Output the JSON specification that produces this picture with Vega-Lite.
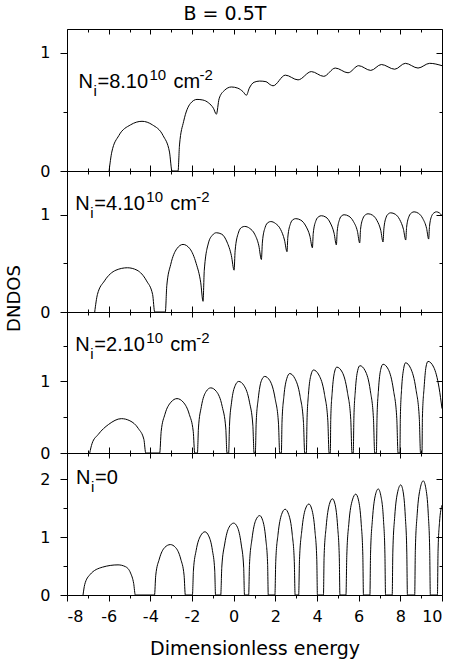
{
  "$schema": "https://vega.github.io/schema/vega-lite/v6.json",
  "padding": {"left": 5, "top": 4, "right": 2, "bottom": 4},
  "title": {"text": "B = 0.5T", "font": "DejaVu Sans", "fontSize": 19, "fontWeight": "normal", "color": "black", "offset": 5, "anchor": "middle"},
  "spacing": 0,
  "bounds": "flush",
  "datasets": {
    "p8": [
      {"e": -5.98, "d": 0}, {"e": -5.85, "d": 0.16}, {"e": -5.51, "d": 0.30}, {"e": -4.95, "d": 0.39}, {"e": -4.40, "d": 0.42}, {"e": -3.90, "d": 0.39}, {"e": -3.39, "d": 0.30}, {"e": -3.08, "d": 0.16}, {"e": -2.96, "d": 0},
      {"e": -2.67, "d": 0}, {"e": -2.60, "d": 0.22}, {"e": -2.40, "d": 0.42}, {"e": -2.08, "d": 0.57}, {"e": -1.76, "d": 0.605}, {"e": -1.48, "d": 0.60}, {"e": -1.20, "d": 0.575}, {"e": -0.97, "d": 0.53}, {"e": -0.83, "d": 0.48},
      {"e": -0.70, "d": 0.61}, {"e": -0.45, "d": 0.68}, {"e": -0.11, "d": 0.71}, {"e": 0.20, "d": 0.70}, {"e": 0.45, "d": 0.67}, {"e": 0.61, "d": 0.64},
      {"e": 0.75, "d": 0.70}, {"e": 0.98, "d": 0.75}, {"e": 1.25, "d": 0.76}, {"e": 1.55, "d": 0.755}, {"e": 1.75, "d": 0.73}, {"e": 1.89, "d": 0.72},
      {"e": 2.48, "d": 0.81}, {"e": 3.09, "d": 0.77}, {"e": 3.73, "d": 0.84}, {"e": 4.32, "d": 0.80}, {"e": 4.88, "d": 0.87}, {"e": 5.49, "d": 0.83},
      {"e": 6.00, "d": 0.89}, {"e": 6.58, "d": 0.85}, {"e": 7.09, "d": 0.90}, {"e": 7.73, "d": 0.86}, {"e": 8.24, "d": 0.91}, {"e": 8.85, "d": 0.87},
      {"e": 9.41, "d": 0.91}, {"e": 10.0, "d": 0.89}
    ],
    "p4": [
      {"e": -6.67, "d": 0}, {"e": -6.54, "d": 0.18}, {"e": -6.20, "d": 0.32}, {"e": -5.65, "d": 0.43}, {"e": -5.10, "d": 0.455}, {"e": -4.64, "d": 0.43}, {"e": -4.18, "d": 0.32}, {"e": -3.89, "d": 0.18}, {"e": -3.79, "d": 0},
      {"e": -3.28, "d": 0}, {"e": -3.21, "d": 0.27}, {"e": -3.02, "d": 0.49}, {"e": -2.73, "d": 0.65}, {"e": -2.43, "d": 0.695}, {"e": -2.10, "d": 0.65}, {"e": -1.80, "d": 0.50}, {"e": -1.58, "d": 0.30}, {"e": -1.47, "d": 0.11},
      {"e": -1.41, "d": 0.43}, {"e": -1.21, "d": 0.71}, {"e": -1.02, "d": 0.79}, {"e": -0.83, "d": 0.815}, {"e": -0.57, "d": 0.80}, {"e": -0.32, "d": 0.72}, {"e": -0.11, "d": 0.58}, {"e": 0.02, "d": 0.43},
      {"e": 0.07, "d": 0.63}, {"e": 0.22, "d": 0.81}, {"e": 0.38, "d": 0.87}, {"e": 0.53, "d": 0.88}, {"e": 0.77, "d": 0.86}, {"e": 1.01, "d": 0.80}, {"e": 1.21, "d": 0.68}, {"e": 1.33, "d": 0.54},
      {"e": 1.38, "d": 0.72}, {"e": 1.51, "d": 0.87}, {"e": 1.65, "d": 0.92}, {"e": 1.78, "d": 0.93}, {"e": 2.01, "d": 0.91}, {"e": 2.25, "d": 0.85}, {"e": 2.44, "d": 0.74}, {"e": 2.56, "d": 0.62},
      {"e": 2.60, "d": 0.77}, {"e": 2.73, "d": 0.91}, {"e": 2.85, "d": 0.95}, {"e": 2.98, "d": 0.96}, {"e": 3.22, "d": 0.945}, {"e": 3.46, "d": 0.885}, {"e": 3.66, "d": 0.78}, {"e": 3.78, "d": 0.66},
      {"e": 3.82, "d": 0.81}, {"e": 3.95, "d": 0.94}, {"e": 4.08, "d": 0.98}, {"e": 4.21, "d": 0.99}, {"e": 4.43, "d": 0.975}, {"e": 4.64, "d": 0.915}, {"e": 4.82, "d": 0.81}, {"e": 4.93, "d": 0.69},
      {"e": 4.97, "d": 0.83}, {"e": 5.08, "d": 0.95}, {"e": 5.19, "d": 0.99}, {"e": 5.30, "d": 1.00}, {"e": 5.53, "d": 0.985}, {"e": 5.75, "d": 0.93}, {"e": 5.94, "d": 0.83}, {"e": 6.05, "d": 0.71},
      {"e": 6.09, "d": 0.85}, {"e": 6.21, "d": 0.965}, {"e": 6.33, "d": 1.00}, {"e": 6.45, "d": 1.01}, {"e": 6.67, "d": 0.995}, {"e": 6.88, "d": 0.94}, {"e": 7.06, "d": 0.84}, {"e": 7.17, "d": 0.72},
      {"e": 7.21, "d": 0.855}, {"e": 7.32, "d": 0.975}, {"e": 7.43, "d": 1.01}, {"e": 7.54, "d": 1.02}, {"e": 7.76, "d": 1.005}, {"e": 7.97, "d": 0.95}, {"e": 8.15, "d": 0.85}, {"e": 8.26, "d": 0.74},
      {"e": 8.30, "d": 0.87}, {"e": 8.42, "d": 0.985}, {"e": 8.54, "d": 1.02}, {"e": 8.66, "d": 1.03}, {"e": 8.87, "d": 1.015}, {"e": 9.08, "d": 0.96}, {"e": 9.26, "d": 0.86}, {"e": 9.36, "d": 0.75},
      {"e": 9.40, "d": 0.88}, {"e": 9.51, "d": 0.99}, {"e": 9.62, "d": 1.02}, {"e": 9.73, "d": 1.03}, {"e": 9.87, "d": 1.02}, {"e": 10.0, "d": 0.99}
    ],
    "p2": [
      {"e": -6.91, "d": 0}, {"e": -6.80, "d": 0.13}, {"e": -6.50, "d": 0.26}, {"e": -6.00, "d": 0.40}, {"e": -5.39, "d": 0.48}, {"e": -4.98, "d": 0.45}, {"e": -4.57, "d": 0.34}, {"e": -4.31, "d": 0.19}, {"e": -4.22, "d": 0},
      {"e": -3.55, "d": 0}, {"e": -3.48, "d": 0.30}, {"e": -3.30, "d": 0.54}, {"e": -3.01, "d": 0.71}, {"e": -2.72, "d": 0.76}, {"e": -2.42, "d": 0.71}, {"e": -2.13, "d": 0.54}, {"e": -1.94, "d": 0.30}, {"e": -1.87, "d": 0},
      {"e": -1.74, "d": 0}, {"e": -1.69, "d": 0.35}, {"e": -1.55, "d": 0.65}, {"e": -1.32, "d": 0.86}, {"e": -1.10, "d": 0.91}, {"e": -0.83, "d": 0.86}, {"e": -0.55, "d": 0.65}, {"e": -0.38, "d": 0.35}, {"e": -0.32, "d": 0},
      {"e": -0.24, "d": 0}, {"e": -0.20, "d": 0.39}, {"e": -0.10, "d": 0.71}, {"e": 0.07, "d": 0.94}, {"e": 0.24, "d": 1.00}, {"e": 0.50, "d": 0.94}, {"e": 0.76, "d": 0.71}, {"e": 0.92, "d": 0.39}, {"e": 0.98, "d": 0},
      {"e": 1.04, "d": 0}, {"e": 1.08, "d": 0.42}, {"e": 1.18, "d": 0.76}, {"e": 1.33, "d": 1.01}, {"e": 1.49, "d": 1.07}, {"e": 1.74, "d": 1.01}, {"e": 1.99, "d": 0.76}, {"e": 2.15, "d": 0.42}, {"e": 2.21, "d": 0},
      {"e": 2.29, "d": 0}, {"e": 2.32, "d": 0.43}, {"e": 2.41, "d": 0.79}, {"e": 2.55, "d": 1.04}, {"e": 2.69, "d": 1.11}, {"e": 2.94, "d": 1.04}, {"e": 3.19, "d": 0.79}, {"e": 3.35, "d": 0.43}, {"e": 3.41, "d": 0},
      {"e": 3.49, "d": 0}, {"e": 3.52, "d": 0.45}, {"e": 3.59, "d": 0.82}, {"e": 3.71, "d": 1.09}, {"e": 3.83, "d": 1.16}, {"e": 4.09, "d": 1.09}, {"e": 4.36, "d": 0.82}, {"e": 4.52, "d": 0.45}, {"e": 4.58, "d": 0},
      {"e": 4.64, "d": 0}, {"e": 4.66, "d": 0.47}, {"e": 4.73, "d": 0.85}, {"e": 4.84, "d": 1.13}, {"e": 4.95, "d": 1.20}, {"e": 5.21, "d": 1.13}, {"e": 5.46, "d": 0.85}, {"e": 5.62, "d": 0.47}, {"e": 5.68, "d": 0},
      {"e": 5.74, "d": 0}, {"e": 5.77, "d": 0.48}, {"e": 5.84, "d": 0.87}, {"e": 5.95, "d": 1.15}, {"e": 6.06, "d": 1.22}, {"e": 6.31, "d": 1.15}, {"e": 6.56, "d": 0.87}, {"e": 6.71, "d": 0.48}, {"e": 6.77, "d": 0},
      {"e": 6.85, "d": 0}, {"e": 6.88, "d": 0.48}, {"e": 6.95, "d": 0.88}, {"e": 7.06, "d": 1.17}, {"e": 7.17, "d": 1.24}, {"e": 7.42, "d": 1.17}, {"e": 7.67, "d": 0.88}, {"e": 7.83, "d": 0.48}, {"e": 7.89, "d": 0},
      {"e": 7.98, "d": 0}, {"e": 8.00, "d": 0.49}, {"e": 8.06, "d": 0.89}, {"e": 8.16, "d": 1.18}, {"e": 8.25, "d": 1.26}, {"e": 8.50, "d": 1.18}, {"e": 8.75, "d": 0.89}, {"e": 8.91, "d": 0.49}, {"e": 8.97, "d": 0},
      {"e": 9.04, "d": 0}, {"e": 9.06, "d": 0.50}, {"e": 9.14, "d": 0.91}, {"e": 9.23, "d": 1.20}, {"e": 9.33, "d": 1.28}, {"e": 9.60, "d": 1.20}, {"e": 9.86, "d": 0.91}, {"e": 10.0, "d": 0.62}
    ],
    "p0": [
      {"e": -7.23, "d": 0}, {"e": -7.15, "d": 0.18}, {"e": -6.90, "d": 0.35}, {"e": -6.30, "d": 0.48}, {"e": -5.55, "d": 0.52}, {"e": -5.20, "d": 0.49}, {"e": -4.95, "d": 0.38}, {"e": -4.80, "d": 0.20}, {"e": -4.72, "d": 0},
      {"e": -3.80, "d": 0}, {"e": -3.74, "d": 0.34}, {"e": -3.57, "d": 0.62}, {"e": -3.31, "d": 0.82}, {"e": -3.04, "d": 0.87}, {"e": -2.79, "d": 0.82}, {"e": -2.54, "d": 0.62}, {"e": -2.38, "d": 0.34}, {"e": -2.32, "d": 0},
      {"e": -1.98, "d": 0}, {"e": -1.93, "d": 0.43}, {"e": -1.80, "d": 0.77}, {"e": -1.59, "d": 1.02}, {"e": -1.38, "d": 1.09}, {"e": -1.20, "d": 1.02}, {"e": -1.02, "d": 0.77}, {"e": -0.91, "d": 0.43}, {"e": -0.87, "d": 0},
      {"e": -0.62, "d": 0}, {"e": -0.57, "d": 0.48}, {"e": -0.43, "d": 0.88}, {"e": -0.22, "d": 1.17}, {"e": 0.0, "d": 1.24}, {"e": 0.18, "d": 1.17}, {"e": 0.36, "d": 0.88}, {"e": 0.48, "d": 0.48}, {"e": 0.52, "d": 0},
      {"e": 0.72, "d": 0}, {"e": 0.76, "d": 0.53}, {"e": 0.88, "d": 0.97}, {"e": 1.06, "d": 1.29}, {"e": 1.25, "d": 1.37}, {"e": 1.39, "d": 1.29}, {"e": 1.54, "d": 0.97}, {"e": 1.63, "d": 0.53}, {"e": 1.66, "d": 0},
      {"e": 1.98, "d": 0}, {"e": 2.02, "d": 0.58}, {"e": 2.13, "d": 1.05}, {"e": 2.30, "d": 1.39}, {"e": 2.47, "d": 1.48}, {"e": 2.64, "d": 1.39}, {"e": 2.81, "d": 1.05}, {"e": 2.91, "d": 0.58}, {"e": 2.95, "d": 0},
      {"e": 3.12, "d": 0}, {"e": 3.16, "d": 0.61}, {"e": 3.27, "d": 1.11}, {"e": 3.44, "d": 1.48}, {"e": 3.61, "d": 1.57}, {"e": 3.75, "d": 1.48}, {"e": 3.90, "d": 1.11}, {"e": 3.99, "d": 0.61}, {"e": 4.02, "d": 0},
      {"e": 4.31, "d": 0}, {"e": 4.34, "d": 0.65}, {"e": 4.44, "d": 1.18}, {"e": 4.59, "d": 1.56}, {"e": 4.74, "d": 1.66}, {"e": 4.87, "d": 1.56}, {"e": 4.99, "d": 1.18}, {"e": 5.07, "d": 0.65}, {"e": 5.10, "d": 0},
      {"e": 5.39, "d": 0}, {"e": 5.43, "d": 0.68}, {"e": 5.53, "d": 1.24}, {"e": 5.70, "d": 1.64}, {"e": 5.86, "d": 1.74}, {"e": 5.99, "d": 1.64}, {"e": 6.12, "d": 1.24}, {"e": 6.20, "d": 0.68}, {"e": 6.23, "d": 0},
      {"e": 6.54, "d": 0}, {"e": 6.57, "d": 0.71}, {"e": 6.66, "d": 1.30}, {"e": 6.80, "d": 1.72}, {"e": 6.94, "d": 1.83}, {"e": 7.06, "d": 1.72}, {"e": 7.19, "d": 1.30}, {"e": 7.26, "d": 0.71}, {"e": 7.29, "d": 0},
      {"e": 7.61, "d": 0}, {"e": 7.64, "d": 0.74}, {"e": 7.73, "d": 1.35}, {"e": 7.88, "d": 1.79}, {"e": 8.02, "d": 1.90}, {"e": 8.13, "d": 1.79}, {"e": 8.24, "d": 1.35}, {"e": 8.31, "d": 0.74}, {"e": 8.34, "d": 0},
      {"e": 8.69, "d": 0}, {"e": 8.72, "d": 0.77}, {"e": 8.81, "d": 1.40}, {"e": 8.96, "d": 1.85}, {"e": 9.10, "d": 1.97}, {"e": 9.22, "d": 1.85}, {"e": 9.34, "d": 1.40}, {"e": 9.41, "d": 0.77}, {"e": 9.44, "d": 0},
      {"e": 9.78, "d": 0}, {"e": 9.81, "d": 0.75}, {"e": 9.88, "d": 1.25}, {"e": 10.0, "d": 1.55}
    ]
  },
  "vconcat": [
    {
      "width": 375, "height": 142,
      "resolve": {"axis": {"x": "independent", "y": "independent"}},
      "layer": [
        {
          "data": {"name": "p8"},
          "mark": {"type": "line", "color": "black", "strokeWidth": 1, "interpolate": "monotone"},
          "encoding": {
            "x": {"field": "e", "type": "quantitative", "scale": {"domain": [-8, 10], "nice": false, "zero": false},
                  "axis": {"orient": "bottom", "title": null, "labels": false, "values": [-8,-7,-6,-5,-4,-3,-2,-1,0,1,2,3,4,5,6,7,8,9,10],
                           "tickSize": {"condition": {"test": "datum.value % 2 === 0", "value": -6}, "value": -3}}},
            "y": {"field": "d", "type": "quantitative", "scale": {"domain": [0, 1.2], "nice": false},
                  "axis": {"orient": "left", "title": null, "values": [0, 0.5, 1], "labelPadding": 10,
                           "labelExpr": "datum.value % 1 === 0 ? '' + datum.value : ''",
                           "tickSize": {"condition": {"test": "datum.value % 1 === 0", "value": 7}, "value": 4}}}
          }
        },
        {
          "data": {"values": [{}]},
          "mark": {"type": "text", "align": "left", "baseline": "alphabetic", "font": "Liberation Sans", "fontSize": 20, "color": "black"},
          "encoding": {
            "x": {"datum": -7.45, "type": "quantitative", "scale": {"domain": [-8, 10], "nice": false, "zero": false},
                  "axis": {"orient": "top", "title": null, "labels": false, "values": [-8,-7,-6,-5,-4,-3,-2,-1,0,1,2,3,4,5,6,7,8,9,10],
                           "tickSize": {"condition": {"test": "datum.value % 2 === 0", "value": -5}, "value": -3}}},
            "y": {"datum": 0.70, "type": "quantitative", "scale": {"domain": [0, 1.2], "nice": false},
                  "axis": {"orient": "right", "title": null, "labels": false, "values": [0, 0.5, 1],
                           "tickSize": {"condition": {"test": "datum.value % 1 === 0", "value": -6}, "value": -3}}},
            "text": {"value": "N"}
          }
        },
        {"data": {"values": [{}]}, "mark": {"type": "text", "align": "left", "baseline": "alphabetic", "font": "Liberation Sans", "fontSize": 15, "color": "black", "dx": 15, "dy": 8},
         "encoding": {"x": {"datum": -7.45, "type": "quantitative", "scale": {"domain": [-8, 10], "nice": false, "zero": false}, "axis": null},
                      "y": {"datum": 0.70, "type": "quantitative", "scale": {"domain": [0, 1.2], "nice": false}, "axis": null}, "text": {"value": "i"}}},
        {"data": {"values": [{}]}, "mark": {"type": "text", "align": "left", "baseline": "alphabetic", "font": "Liberation Sans", "fontSize": 20, "color": "black", "dx": 19},
         "encoding": {"x": {"datum": -7.45, "type": "quantitative", "scale": {"domain": [-8, 10], "nice": false, "zero": false}, "axis": null},
                      "y": {"datum": 0.70, "type": "quantitative", "scale": {"domain": [0, 1.2], "nice": false}, "axis": null}, "text": {"value": "=8.10"}}},
        {"data": {"values": [{}]}, "mark": {"type": "text", "align": "left", "baseline": "alphabetic", "font": "Liberation Sans", "fontSize": 15, "color": "black", "dx": 71, "dy": -8},
         "encoding": {"x": {"datum": -7.45, "type": "quantitative", "scale": {"domain": [-8, 10], "nice": false, "zero": false}, "axis": null},
                      "y": {"datum": 0.70, "type": "quantitative", "scale": {"domain": [0, 1.2], "nice": false}, "axis": null}, "text": {"value": "10"}}},
        {"data": {"values": [{}]}, "mark": {"type": "text", "align": "left", "baseline": "alphabetic", "font": "Liberation Sans", "fontSize": 20, "color": "black", "dx": 95},
         "encoding": {"x": {"datum": -7.45, "type": "quantitative", "scale": {"domain": [-8, 10], "nice": false, "zero": false}, "axis": null},
                      "y": {"datum": 0.70, "type": "quantitative", "scale": {"domain": [0, 1.2], "nice": false}, "axis": null}, "text": {"value": "cm"}}},
        {"data": {"values": [{}]}, "mark": {"type": "text", "align": "left", "baseline": "alphabetic", "font": "Liberation Sans", "fontSize": 15, "color": "black", "dx": 121, "dy": -8},
         "encoding": {"x": {"datum": -7.45, "type": "quantitative", "scale": {"domain": [-8, 10], "nice": false, "zero": false}, "axis": null},
                      "y": {"datum": 0.70, "type": "quantitative", "scale": {"domain": [0, 1.2], "nice": false}, "axis": null}, "text": {"value": "-2"}}}
      ]
    },
    {
      "width": 375, "height": 141,
      "resolve": {"axis": {"x": "independent", "y": "independent"}},
      "layer": [
        {
          "data": {"name": "p4"},
          "mark": {"type": "line", "color": "black", "strokeWidth": 1, "interpolate": "monotone"},
          "encoding": {
            "x": {"field": "e", "type": "quantitative", "scale": {"domain": [-8, 10], "nice": false, "zero": false},
                  "axis": {"orient": "bottom", "title": null, "labels": false, "values": [-8,-7,-6,-5,-4,-3,-2,-1,0,1,2,3,4,5,6,7,8,9,10],
                           "tickSize": {"condition": {"test": "datum.value % 2 === 0", "value": -6}, "value": -3}}},
            "y": {"field": "d", "type": "quantitative", "scale": {"domain": [0, 1.45], "nice": false},
                  "axis": {"orient": "left", "title": "DNDOS", "titleY": 127, "titlePadding": 16, "values": [0, 0.5, 1], "labelPadding": 10,
                           "labelExpr": "datum.value % 1 === 0 ? '' + datum.value : ''",
                           "tickSize": {"condition": {"test": "datum.value % 1 === 0", "value": 7}, "value": 4}}}
          }
        },
        {
          "data": {"values": [{}]},
          "mark": {"type": "text", "align": "left", "baseline": "alphabetic", "font": "Liberation Sans", "fontSize": 20, "color": "black"},
          "encoding": {
            "x": {"datum": -7.6, "type": "quantitative", "scale": {"domain": [-8, 10], "nice": false, "zero": false},
                  "axis": {"orient": "top", "title": null, "labels": false, "values": [-8,-7,-6,-5,-4,-3,-2,-1,0,1,2,3,4,5,6,7,8,9,10],
                           "tickSize": {"condition": {"test": "datum.value % 2 === 0", "value": -5}, "value": -3}}},
            "y": {"datum": 1.045, "type": "quantitative", "scale": {"domain": [0, 1.45], "nice": false},
                  "axis": {"orient": "right", "title": null, "labels": false, "values": [0, 0.5, 1],
                           "tickSize": {"condition": {"test": "datum.value % 1 === 0", "value": -6}, "value": -3}}},
            "text": {"value": "N"}
          }
        },
        {"data": {"values": [{}]}, "mark": {"type": "text", "align": "left", "baseline": "alphabetic", "font": "Liberation Sans", "fontSize": 15, "color": "black", "dx": 15, "dy": 8},
         "encoding": {"x": {"datum": -7.6, "type": "quantitative", "scale": {"domain": [-8, 10], "nice": false, "zero": false}, "axis": null},
                      "y": {"datum": 1.045, "type": "quantitative", "scale": {"domain": [0, 1.45], "nice": false}, "axis": null}, "text": {"value": "i"}}},
        {"data": {"values": [{}]}, "mark": {"type": "text", "align": "left", "baseline": "alphabetic", "font": "Liberation Sans", "fontSize": 20, "color": "black", "dx": 19},
         "encoding": {"x": {"datum": -7.6, "type": "quantitative", "scale": {"domain": [-8, 10], "nice": false, "zero": false}, "axis": null},
                      "y": {"datum": 1.045, "type": "quantitative", "scale": {"domain": [0, 1.45], "nice": false}, "axis": null}, "text": {"value": "=4.10"}}},
        {"data": {"values": [{}]}, "mark": {"type": "text", "align": "left", "baseline": "alphabetic", "font": "Liberation Sans", "fontSize": 15, "color": "black", "dx": 71, "dy": -8},
         "encoding": {"x": {"datum": -7.6, "type": "quantitative", "scale": {"domain": [-8, 10], "nice": false, "zero": false}, "axis": null},
                      "y": {"datum": 1.045, "type": "quantitative", "scale": {"domain": [0, 1.45], "nice": false}, "axis": null}, "text": {"value": "10"}}},
        {"data": {"values": [{}]}, "mark": {"type": "text", "align": "left", "baseline": "alphabetic", "font": "Liberation Sans", "fontSize": 20, "color": "black", "dx": 95},
         "encoding": {"x": {"datum": -7.6, "type": "quantitative", "scale": {"domain": [-8, 10], "nice": false, "zero": false}, "axis": null},
                      "y": {"datum": 1.045, "type": "quantitative", "scale": {"domain": [0, 1.45], "nice": false}, "axis": null}, "text": {"value": "cm"}}},
        {"data": {"values": [{}]}, "mark": {"type": "text", "align": "left", "baseline": "alphabetic", "font": "Liberation Sans", "fontSize": 15, "color": "black", "dx": 121, "dy": -8},
         "encoding": {"x": {"datum": -7.6, "type": "quantitative", "scale": {"domain": [-8, 10], "nice": false, "zero": false}, "axis": null},
                      "y": {"datum": 1.045, "type": "quantitative", "scale": {"domain": [0, 1.45], "nice": false}, "axis": null}, "text": {"value": "-2"}}}
      ]
    },
    {
      "width": 375, "height": 141,
      "resolve": {"axis": {"x": "independent", "y": "independent"}},
      "layer": [
        {
          "data": {"name": "p2"},
          "mark": {"type": "line", "color": "black", "strokeWidth": 1, "interpolate": "monotone"},
          "encoding": {
            "x": {"field": "e", "type": "quantitative", "scale": {"domain": [-8, 10], "nice": false, "zero": false},
                  "axis": {"orient": "bottom", "title": null, "labels": false, "values": [-8,-7,-6,-5,-4,-3,-2,-1,0,1,2,3,4,5,6,7,8,9,10],
                           "tickSize": {"condition": {"test": "datum.value % 2 === 0", "value": -6}, "value": -3}}},
            "y": {"field": "d", "type": "quantitative", "scale": {"domain": [0, 1.97], "nice": false},
                  "axis": {"orient": "left", "title": null, "values": [0, 0.5, 1, 1.5], "labelPadding": 10,
                           "labelExpr": "datum.value % 1 === 0 ? '' + datum.value : ''",
                           "tickSize": {"condition": {"test": "datum.value % 1 === 0", "value": 7}, "value": 4}}}
          }
        },
        {
          "data": {"values": [{}]},
          "mark": {"type": "text", "align": "left", "baseline": "alphabetic", "font": "Liberation Sans", "fontSize": 20, "color": "black"},
          "encoding": {
            "x": {"datum": -7.6, "type": "quantitative", "scale": {"domain": [-8, 10], "nice": false, "zero": false},
                  "axis": {"orient": "top", "title": null, "labels": false, "values": [-8,-7,-6,-5,-4,-3,-2,-1,0,1,2,3,4,5,6,7,8,9,10],
                           "tickSize": {"condition": {"test": "datum.value % 2 === 0", "value": -5}, "value": -3}}},
            "y": {"datum": 1.42, "type": "quantitative", "scale": {"domain": [0, 1.97], "nice": false},
                  "axis": {"orient": "right", "title": null, "labels": false, "values": [0, 0.5, 1, 1.5],
                           "tickSize": {"condition": {"test": "datum.value % 1 === 0", "value": -6}, "value": -3}}},
            "text": {"value": "N"}
          }
        },
        {"data": {"values": [{}]}, "mark": {"type": "text", "align": "left", "baseline": "alphabetic", "font": "Liberation Sans", "fontSize": 15, "color": "black", "dx": 15, "dy": 8},
         "encoding": {"x": {"datum": -7.6, "type": "quantitative", "scale": {"domain": [-8, 10], "nice": false, "zero": false}, "axis": null},
                      "y": {"datum": 1.42, "type": "quantitative", "scale": {"domain": [0, 1.97], "nice": false}, "axis": null}, "text": {"value": "i"}}},
        {"data": {"values": [{}]}, "mark": {"type": "text", "align": "left", "baseline": "alphabetic", "font": "Liberation Sans", "fontSize": 20, "color": "black", "dx": 19},
         "encoding": {"x": {"datum": -7.6, "type": "quantitative", "scale": {"domain": [-8, 10], "nice": false, "zero": false}, "axis": null},
                      "y": {"datum": 1.42, "type": "quantitative", "scale": {"domain": [0, 1.97], "nice": false}, "axis": null}, "text": {"value": "=2.10"}}},
        {"data": {"values": [{}]}, "mark": {"type": "text", "align": "left", "baseline": "alphabetic", "font": "Liberation Sans", "fontSize": 15, "color": "black", "dx": 71, "dy": -8},
         "encoding": {"x": {"datum": -7.6, "type": "quantitative", "scale": {"domain": [-8, 10], "nice": false, "zero": false}, "axis": null},
                      "y": {"datum": 1.42, "type": "quantitative", "scale": {"domain": [0, 1.97], "nice": false}, "axis": null}, "text": {"value": "10"}}},
        {"data": {"values": [{}]}, "mark": {"type": "text", "align": "left", "baseline": "alphabetic", "font": "Liberation Sans", "fontSize": 20, "color": "black", "dx": 95},
         "encoding": {"x": {"datum": -7.6, "type": "quantitative", "scale": {"domain": [-8, 10], "nice": false, "zero": false}, "axis": null},
                      "y": {"datum": 1.42, "type": "quantitative", "scale": {"domain": [0, 1.97], "nice": false}, "axis": null}, "text": {"value": "cm"}}},
        {"data": {"values": [{}]}, "mark": {"type": "text", "align": "left", "baseline": "alphabetic", "font": "Liberation Sans", "fontSize": 15, "color": "black", "dx": 121, "dy": -8},
         "encoding": {"x": {"datum": -7.6, "type": "quantitative", "scale": {"domain": [-8, 10], "nice": false, "zero": false}, "axis": null},
                      "y": {"datum": 1.42, "type": "quantitative", "scale": {"domain": [0, 1.97], "nice": false}, "axis": null}, "text": {"value": "-2"}}}
      ]
    },
    {
      "width": 375, "height": 142,
      "resolve": {"axis": {"x": "independent", "y": "independent"}},
      "layer": [
        {
          "data": {"name": "p0"},
          "mark": {"type": "line", "color": "black", "strokeWidth": 1, "interpolate": "monotone"},
          "encoding": {
            "x": {"field": "e", "type": "quantitative", "scale": {"domain": [-8, 10], "nice": false, "zero": false},
                  "axis": {"orient": "bottom", "title": "Dimensionless energy", "titlePadding": 15, "titleFontSize": 19, "labelPadding": 7,
                           "values": [-8,-7,-6,-5,-4,-3,-2,-1,0,1,2,3,4,5,6,7,8,9,10],
                           "labelExpr": "datum.value % 2 === 0 ? '' + datum.value : ''",
                           "tickSize": {"condition": {"test": "datum.value % 2 === 0", "value": 6}, "value": 3}}},
            "y": {"field": "d", "type": "quantitative", "scale": {"domain": [0, 2.45], "nice": false},
                  "axis": {"orient": "left", "title": null, "values": [0, 0.5, 1, 1.5, 2], "labelPadding": 10,
                           "labelExpr": "datum.value % 1 === 0 ? '' + datum.value : ''",
                           "tickSize": {"condition": {"test": "datum.value % 1 === 0", "value": 7}, "value": 4}}}
          }
        },
        {
          "data": {"values": [{}]},
          "mark": {"type": "text", "align": "left", "baseline": "alphabetic", "font": "Liberation Sans", "fontSize": 20, "color": "black"},
          "encoding": {
            "x": {"datum": -7.57, "type": "quantitative", "scale": {"domain": [-8, 10], "nice": false, "zero": false},
                  "axis": {"orient": "top", "title": null, "labels": false, "values": [-8,-7,-6,-5,-4,-3,-2,-1,0,1,2,3,4,5,6,7,8,9,10],
                           "tickSize": {"condition": {"test": "datum.value % 2 === 0", "value": -5}, "value": -3}}},
            "y": {"datum": 1.92, "type": "quantitative", "scale": {"domain": [0, 2.45], "nice": false},
                  "axis": {"orient": "right", "title": null, "labels": false, "values": [0, 0.5, 1, 1.5, 2],
                           "tickSize": {"condition": {"test": "datum.value % 1 === 0", "value": -6}, "value": -3}}},
            "text": {"value": "N"}
          }
        },
        {"data": {"values": [{}]}, "mark": {"type": "text", "align": "left", "baseline": "alphabetic", "font": "Liberation Sans", "fontSize": 15, "color": "black", "dx": 15, "dy": 8},
         "encoding": {"x": {"datum": -7.57, "type": "quantitative", "scale": {"domain": [-8, 10], "nice": false, "zero": false}, "axis": null},
                      "y": {"datum": 1.92, "type": "quantitative", "scale": {"domain": [0, 2.45], "nice": false}, "axis": null}, "text": {"value": "i"}}},
        {"data": {"values": [{}]}, "mark": {"type": "text", "align": "left", "baseline": "alphabetic", "font": "Liberation Sans", "fontSize": 20, "color": "black", "dx": 19},
         "encoding": {"x": {"datum": -7.57, "type": "quantitative", "scale": {"domain": [-8, 10], "nice": false, "zero": false}, "axis": null},
                      "y": {"datum": 1.92, "type": "quantitative", "scale": {"domain": [0, 2.45], "nice": false}, "axis": null}, "text": {"value": "=0"}}}
      ]
    }
  ],
  "config": {
    "view": {"stroke": null},
    "axis": {"grid": false, "domainColor": "black", "tickColor": "black", "labelColor": "black", "titleColor": "black",
             "labelFont": "DejaVu Sans", "titleFont": "DejaVu Sans", "labelFontSize": 16, "titleFontSize": 18, "titleFontWeight": "normal"}
  }
}
